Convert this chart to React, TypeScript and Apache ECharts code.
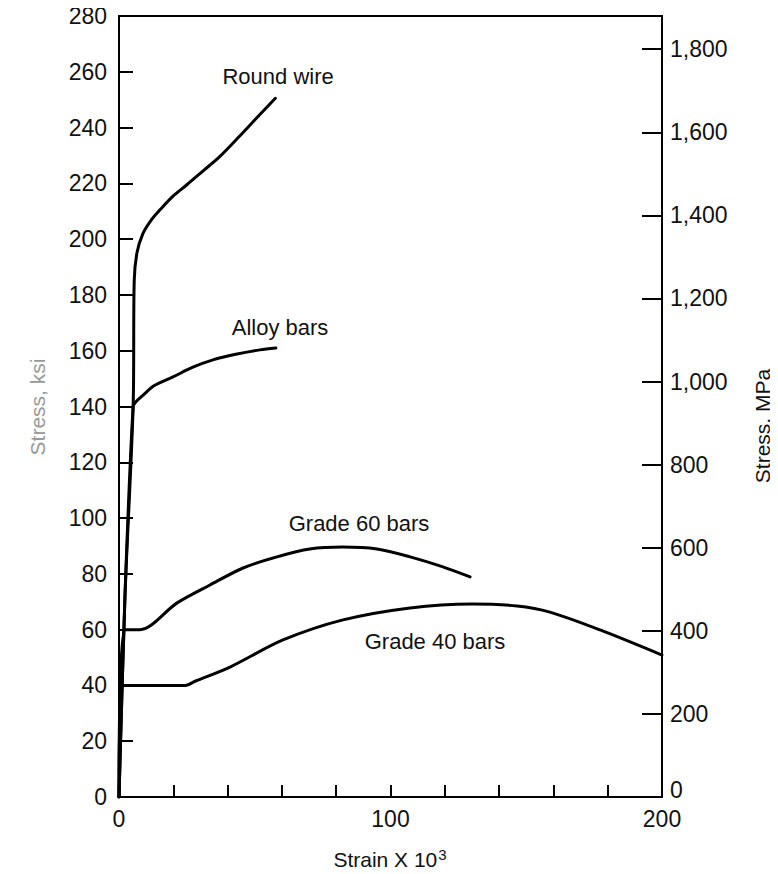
import React, { useEffect, useRef } from "react";
import * as echarts from "echarts";

// Strain x 10^3 (x) and stress in ksi (y)
const roundWireStrain = [0, 2.2, 5.2, 5.6, 6.6, 8.8, 12, 15.1, 20, 25, 31, 37, 44, 51.9, 57.6];
const roundWireStress = [0, 72, 140, 185, 195, 202, 207, 210.5, 215.5, 219.5, 224.5, 229.5, 236.5, 244.7, 250.5];

const alloyStrain = [0, 2.2, 5.2, 6.5, 8.8, 13, 19.9, 27, 34.6, 43, 51.9, 57.8];
const alloyStress = [0, 72, 140, 142, 144, 147.5, 150.6, 154, 156.7, 158.7, 160.3, 161];

const grade60Strain = [0, 2, 7.7, 21.4, 33.5, 45.7, 58.2, 70.3, 82.5, 95, 107.2, 119.3, 129.3];
const grade60Stress = [0, 60, 60, 69.6, 76, 82.1, 86.1, 88.9, 89.6, 88.9, 86.1, 82.5, 78.9];

const grade40Strain = [0, 1.4, 24.5, 28, 40.9, 60.4, 82.5, 107.2, 130, 146.6, 158.7, 177.2, 200];
const grade40Stress = [0, 40, 40, 41.5, 46.6, 56.3, 63.5, 67.8, 69.2, 68.5, 66.3, 59.9, 50.9];

const seriesNames = ["Round wire", "Alloy bars", "Grade 60 bars", "Grade 40 bars"];
// label anchors in data coordinates (strain, ksi)
const labelStrain = [58.6, 59.3, 88.4, 116.4];
const labelStress = [258.2, 168.5, 97.9, 55.9];

const xTickLabels = [0, 100, 200];
const ksiTicks = [0, 20, 40, 60, 80, 100, 120, 140, 160, 180, 200, 220, 240, 260, 280];
const mpaTicks = [0, 200, 400, 600, 800, 1000, 1200, 1400, 1600, 1800];

const FONT = "'Liberation Sans', Arial, Helvetica, sans-serif";

export default function App() {
  const ref = useRef<HTMLDivElement>(null);

  useEffect(() => {
    if (!ref.current) return;
    const chart = echarts.init(ref.current, undefined, { renderer: "svg" });

    const curves = [
      [roundWireStrain, roundWireStress],
      [alloyStrain, alloyStress],
      [grade60Strain, grade60Stress],
      [grade40Strain, grade40Stress],
    ];

    const series: any[] = curves.map(([xs, ys], i) => ({
      type: "line",
      name: seriesNames[i],
      data: xs.map((x, j) => [x, ys[j]]),
      showSymbol: false,
      symbol: "none",
      smooth: 0.3,
      lineStyle: { color: "#000", width: 3, join: "round", cap: "round" },
      xAxisIndex: 0,
      yAxisIndex: 0,
      silent: true,
      markPoint: {
        symbol: "circle",
        symbolSize: 0,
        silent: true,
        label: {
          show: true,
          position: "inside",
          formatter: seriesNames[i],
          color: "#111",
          fontSize: 22,
          fontFamily: FONT,
        },
        data: [{ coord: [labelStrain[i], labelStress[i]] }],
      },
    }));

    chart.setOption({
      animation: false,
      backgroundColor: "#fff",
      grid: {
        left: 119,
        right: 116,
        top: 16,
        bottom: 77,
        show: true,
        borderColor: "#000",
        borderWidth: 2,
        backgroundColor: "transparent",
      },
      xAxis: {
        type: "value",
        min: 0,
        max: 200,
        interval: 20,
        axisLine: { show: true, lineStyle: { color: "#000", width: 2 } },
        axisTick: { show: true, inside: true, length: 12, lineStyle: { color: "#000", width: 2 } },
        axisLabel: {
          margin: 10,
          color: "#111",
          fontSize: 23,
          fontFamily: FONT,
          formatter: (v: number) => (xTickLabels.includes(v) ? String(v) : ""),
        },
        splitLine: { show: false },
      },
      yAxis: [
        {
          type: "value",
          position: "left",
          min: 0,
          max: 280,
          interval: 20,
          axisLine: { show: true, lineStyle: { color: "#000", width: 2 } },
          axisTick: { show: true, inside: true, length: 14, lineStyle: { color: "#000", width: 2 } },
          axisLabel: {
            margin: 12,
            color: "#111",
            fontSize: 23,
            fontFamily: FONT,
            formatter: (v: number) => (ksiTicks.includes(v) ? String(v) : ""),
          },
          splitLine: { show: false },
        },
        {
          type: "value",
          position: "right",
          min: 0,
          max: 1880,
          interval: 200,
          axisLine: { show: true, lineStyle: { color: "#000", width: 2 } },
          axisTick: { show: true, inside: true, length: 20, lineStyle: { color: "#000", width: 2 } },
          axisLabel: {
            margin: 8,
            color: "#111",
            fontSize: 23,
            fontFamily: FONT,
            showMaxLabel: false,
            formatter: (v: number) =>
              v === 0 ? "{z|0}" : mpaTicks.includes(v) ? v.toLocaleString("en-US") : "",
            rich: {
              z: { fontSize: 23, fontFamily: FONT, color: "#111", padding: [0, 0, 14, 0] },
            },
          },
          splitLine: { show: false },
        },
      ],
      graphic: [
        {
          type: "text",
          x: 37,
          y: 407,
          rotation: Math.PI / 2,
          style: {
            text: "Stress, ksi",
            fill: "#999",
            fontSize: 21,
            fontFamily: FONT,
            align: "center",
            verticalAlign: "middle",
          },
        },
        {
          type: "text",
          x: 762,
          y: 426,
          rotation: Math.PI / 2,
          style: {
            text: "Stress, MPa",
            fill: "#111",
            fontSize: 21,
            fontFamily: FONT,
            align: "center",
            verticalAlign: "middle",
          },
        },
        {
          type: "text",
          x: 390,
          y: 858,
          style: {
            text: "{a|Strain X 10}{s|3}",
            fill: "#111",
            fontFamily: FONT,
            align: "center",
            verticalAlign: "middle",
            rich: {
              a: { fontSize: 21, fontFamily: FONT, fill: "#111", verticalAlign: "bottom" },
              s: { fontSize: 15, fontFamily: FONT, fill: "#111", verticalAlign: "top", padding: [0, 0, 8, 1] },
            },
          },
        },
      ],
      series,
    });

    return () => chart.dispose();
  }, []);

  return <div ref={ref} style={{ width: 778, height: 874, marginLeft: -8, marginTop: -8 }} />;
}
